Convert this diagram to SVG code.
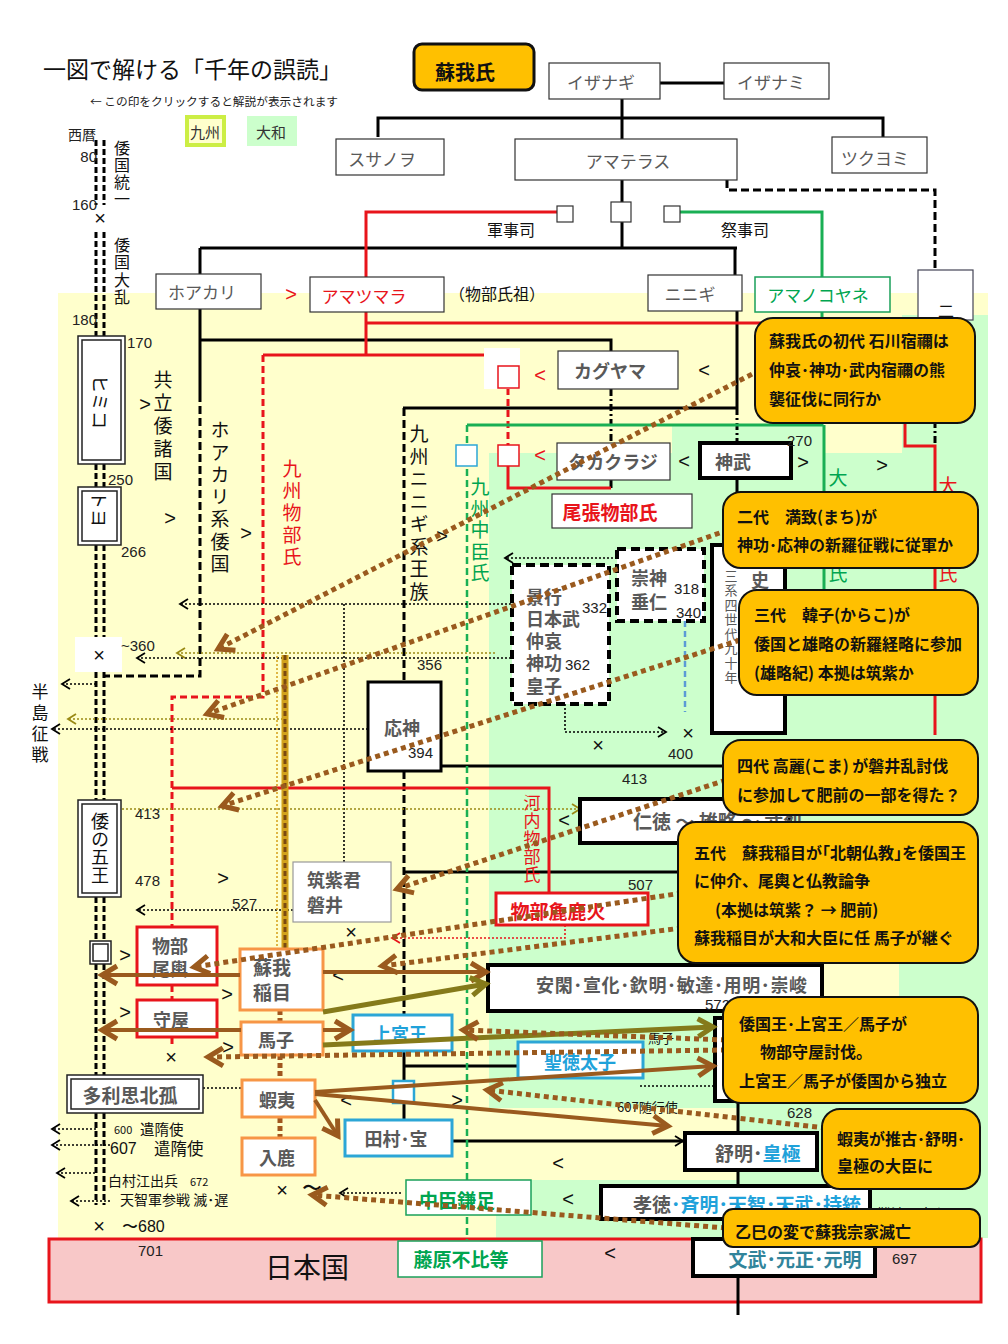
<svg xmlns="http://www.w3.org/2000/svg" width="1008" height="1344" viewBox="0 0 1008 1344">
<defs>
<style>
text{font-family:"Noto Sans CJK JP","Noto Sans",sans-serif;dominant-baseline:central}
.g{fill:#595959;font-size:17px}
.gb{fill:#595959;font-size:18px;font-weight:bold}
.k{fill:#111;font-size:16px}
.num{fill:#222;font-size:15px;font-family:"Liberation Sans",sans-serif}
.c{fill:#111;font-size:16px;font-weight:bold}
.sym{fill:#111;font-size:20px;font-family:"Liberation Sans",sans-serif;text-anchor:middle}
.mid{text-anchor:middle}
.vt{writing-mode:vertical-rl}
.box{fill:#fff;stroke:#333;stroke-width:1.2}
.tb{fill:#fff;stroke:#000;stroke-width:4}
.dash{fill:#fff;stroke:#000;stroke-width:4;stroke-dasharray:9 5}
.callout{fill:#FFC000;stroke:#111;stroke-width:2}
.ln{stroke:#000;stroke-width:3;fill:none}
.lnd{stroke:#000;stroke-width:3;fill:none;stroke-dasharray:8 4}
.lndd{stroke:#000;stroke-width:3;fill:none;stroke-dasharray:7 3 2 3}
.rl{stroke:#E8141B;stroke-width:3;fill:none}
.rld{stroke:#E8141B;stroke-width:3;fill:none;stroke-dasharray:7 4}
.gl{stroke:#1AAF54;stroke-width:3;fill:none}
.gld{stroke:#1AAF54;stroke-width:2.5;fill:none;stroke-dasharray:7 4}
.dot{stroke:#000;stroke-width:1.6;stroke-dasharray:2 2;fill:none}
.ydot{stroke:#9A8A14;stroke-width:1.6;stroke-dasharray:2 2;fill:none}
.bd{stroke:#9A5A1E;stroke-width:5;stroke-dasharray:5 4;fill:none}
.bs{stroke:#9A5A1E;stroke-width:4;fill:none}
.os{stroke:#857A1A;stroke-width:5;fill:none}
.ora{fill:#fff;stroke:#F79646;stroke-width:3}
.rb{fill:#fff;stroke:#E8141B;stroke-width:3}
.cb{fill:#fff;stroke:#2CA6D6;stroke-width:3}
.gbx{fill:#fff;stroke:#1AA05A;stroke-width:1.5}
.dbl{fill:#fff;stroke:#222;stroke-width:1.5}
.red{fill:#E8141B}
.grn{fill:#00A550}
.cy{fill:#1FA2DA}
.tl{stroke:#000;stroke-width:3;stroke-dasharray:6 3;fill:none}
</style>
<marker id="ak" markerWidth="12" markerHeight="12" refX="8" refY="5" orient="auto" markerUnits="userSpaceOnUse" overflow="visible"><path d="M0,0 L8,5 L0,10" fill="none" stroke="#000" stroke-width="1.8"/></marker>
<marker id="ay" markerWidth="12" markerHeight="12" refX="8" refY="5" orient="auto" markerUnits="userSpaceOnUse" overflow="visible"><path d="M0,0 L8,5 L0,10" fill="none" stroke="#9A8A14" stroke-width="1.8"/></marker>
<marker id="ar" markerWidth="12" markerHeight="12" refX="8" refY="5" orient="auto" markerUnits="userSpaceOnUse" overflow="visible"><path d="M0,0 L8,5 L0,10" fill="none" stroke="#E8141B" stroke-width="1.8"/></marker>
<marker id="ab" markerWidth="20" markerHeight="20" refX="15" refY="9" orient="auto" markerUnits="userSpaceOnUse" overflow="visible"><path d="M0,0 L15,9 L0,18" fill="none" stroke="#9A5A1E" stroke-width="5"/></marker>
<marker id="ao" markerWidth="20" markerHeight="20" refX="15" refY="9" orient="auto" markerUnits="userSpaceOnUse" overflow="visible"><path d="M0,0 L15,9 L0,18" fill="none" stroke="#857A1A" stroke-width="5"/></marker>
</defs>

<g id="background">
<rect x="0" y="0" width="1008" height="1344" fill="#fff"/>
<rect x="58" y="293" width="930" height="945" fill="#FFFFCC"/>
<rect x="489" y="453" width="499" height="655" fill="#CCFFCC"/>
<rect x="672" y="425" width="153" height="28" fill="#CCFFCC"/>
<rect x="902" y="315" width="86" height="138" fill="#CCFFCC"/>
<rect x="737" y="1108" width="251" height="72" fill="#CCFFCC"/>
<rect x="496" y="1180" width="492" height="58" fill="#CCFFCC"/>
<rect x="822" y="963" width="77" height="50" fill="#FFFFCC"/>
<rect x="49" y="1239" width="932" height="63" fill="#F8C8C8" stroke="#E8141B" stroke-width="3"/>
</g>

<g id="titles">
<text x="43" y="68" style="font-size:23px;fill:#111">一図で解ける「千年の誤読」</text>
<text x="90" y="100" style="font-size:11.7px;fill:#222">← この印をクリックすると解説が表示されます</text>
<rect x="187" y="117" width="37" height="28" fill="#FFFFCC" stroke="#CCEE44" stroke-width="4"/>
<text x="205" y="131" class="mid" style="font-size:15px;fill:#333">九州</text>
<rect x="247" y="116" width="50" height="30" fill="#CCFFCC"/>
<text x="271" y="131" class="mid" style="font-size:15px;fill:#333">大和</text>
</g>

<g id="connectors">
<path class="tl" d="M96,140V205M104,140V205M96,232V336M104,232V336M96,464V487M104,464V487M96,545V637M104,545V637M96,672V800M104,672V800M96,897V941M104,897V941M96,964V1075M104,964V1075M96,1113V1205M104,1113V1205"/>
<path class="ln" d="M660,83H724M622,99V139M378,137V118H883V137M622,180V202M622,222V248M200,248H737M200,248V274M735,248V275M200,309V394M200,340H611V351M737,311V408M403,408H737M611,480V488M737,479V545M441,766H760M404,872H690M738,1012V1018M738,1101V1133M738,1170V1186M738,1219V1239M738,1276V1315M404,1051V1081M404,1104V1120M404,1066H518"/>
<path class="ln" d="M452,1141H683" marker-end="url(#ak)"/>
<path class="lnd" d="M200,394V676H103M404,408V682M404,771V1015M727,180V190H935V270"/>
<path class="lndd" d="M737,408V443M611,389V443M935,316V446"/>
<path class="rl" d="M557,212H366V277M366,312V355M366,323H905V446H935V735M263,355H508V366M508,466V488H611M172,788H549V893"/>
<path class="rld" d="M263,355V697H172V927M508,388V446M172,985V1000M172,1037V1048"/>
<path d="M565,925V938H392" stroke="#E8141B" stroke-width="1.6" stroke-dasharray="2 2" fill="none" marker-end="url(#ar)"/>
<path class="gl" d="M680,212H822V277M822,312V425H467M824,425V590"/>
<path class="gld" d="M467,425V1240"/>
<path d="M685,621V712" stroke="#5B9BD5" stroke-width="2.5" stroke-dasharray="6 4" fill="none"/>
<path class="dot" d="M511,604H180" marker-end="url(#ak)"/>
<path class="dot" d="M344,604V862"/>
<path class="dot" d="M617,558H505" marker-end="url(#ak)"/>
<path class="dot" d="M511,658H137" marker-end="url(#ak)"/>
<path class="dot" d="M96,684H62" marker-end="url(#ak)"/>
<path class="dot" d="M368,729H52" marker-end="url(#ak)"/>
<path class="dot" d="M293,910H137" marker-end="url(#ak)"/>
<path class="dot" d="M565,704V732H666" marker-end="url(#ak)"/>
<path class="dot" d="M203,1088H242"/>
<path class="dot" d="M96,1129H52" marker-end="url(#ak)"/>
<path class="dot" d="M110,1145H52" marker-end="url(#ak)"/>
<path class="dot" d="M95,1173H57" marker-end="url(#ak)"/>
<path class="dot" d="M110,1201H71" marker-end="url(#ak)"/>
<path class="dot" d="M401,1193H340" marker-end="url(#ak)"/>
<path class="dot" d="M640,1086H720"/>
<path class="ydot" d="M495,653H177" marker-end="url(#ay)"/>
<path class="ydot" d="M283,719H68" marker-end="url(#ay)"/>
<path class="ydot" d="M118,809H580" marker-start="url(#ay)" marker-end="url(#ay)"/>
<path d="M285,655V950" stroke="#D2A21C" stroke-width="7" fill="none"/>
<path d="M285,655V950" stroke="#7A4A10" stroke-width="3" stroke-dasharray="5 3" fill="none"/>
<path d="M277,656V948" stroke="#D4A017" stroke-width="1.5" stroke-dasharray="2 2" fill="none"/>
<path d="M280,1010V1022M280,1055V1081M280,1118V1139" stroke="#A0561E" stroke-width="5" stroke-dasharray="5 3" fill="none"/>
</g>

<g id="n-soga"><rect x="414" y="44" width="120" height="46" rx="8" fill="#FFC000" stroke="#111" stroke-width="3"/><text x="465" y="71" class="mid" style="font-size:20px;font-weight:bold;fill:#111">蘇我氏</text></g>
<g id="n-izanagi"><rect class="box" x="549" y="63" width="111" height="36"/><text class="g mid" x="601" y="81">イザナギ</text></g>
<g id="n-izanami"><rect class="box" x="724" y="63" width="105" height="36"/><text class="g mid" x="771" y="81">イザナミ</text></g>
<g id="n-susanoo"><rect class="box" x="336" y="139" width="108" height="36"/><text class="g mid" x="382" y="158">スサノヲ</text></g>
<g id="n-amaterasu"><rect class="box" x="515" y="139" width="222" height="41"/><text class="g mid" x="628" y="160">アマテラス</text></g>
<g id="n-tsukuyomi"><rect class="box" x="832" y="137" width="95" height="36"/><text class="g mid" x="875" y="157">ツクヨミ</text></g>
<g id="n-sq1"><rect class="box" x="611" y="202" width="20" height="20"/></g>
<g id="n-sq2"><rect class="box" x="557" y="206" width="16" height="16"/><text class="k mid" x="511" y="229">軍事司</text></g>
<g id="n-sq3"><rect class="box" x="664" y="206" width="16" height="16"/><text class="k mid" x="745" y="229">祭事司</text></g>
<g id="n-hoakari"><rect class="box" x="156" y="274" width="105" height="35"/><text class="g mid" x="202" y="291">ホアカリ</text></g>
<g id="n-amatsumara"><rect class="box" x="310" y="277" width="134" height="35"/><text class="mid" x="364" y="295" style="font-size:17px;fill:#E8141B">アマツマラ</text><text x="291" y="294" class="sym" style="fill:#E8141B">&gt;</text><text class="k mid" x="497" y="293" style="font-size:16px">（物部氏祖）</text></g>
<g id="n-ninigi"><rect class="box" x="648" y="275" width="94" height="36"/><text class="g mid" x="690" y="293">ニニギ</text></g>
<g id="n-amanokoyane"><rect class="gbx" x="755" y="277" width="135" height="35"/><text class="mid grn" x="818" y="294" style="font-size:17px">アマノコヤネ</text></g>
<g id="n-ni"><rect x="918" y="270" width="55" height="50" fill="#fff" stroke="#445" stroke-width="1.2"/><text class="k mid" x="946" y="310">二</text></g>

<g id="n-redsq"><rect x="484" y="348" width="36" height="41" fill="#fff"/><rect x="498" y="366" width="21" height="22" fill="#fff" stroke="#E8141B" stroke-width="1.5"/><rect x="498" y="445" width="21" height="21" fill="#fff" stroke="#E8141B" stroke-width="1.5"/><rect x="456" y="445" width="21" height="21" fill="#fff" stroke="#2CA6D6" stroke-width="1.5"/>
<text class="sym" x="540" y="375" style="fill:#E8141B">&lt;</text><text class="sym" x="540" y="455" style="fill:#E8141B">&lt;</text></g>
<g id="n-kaguyama"><rect class="box" x="558" y="351" width="120" height="38"/><text class="gb mid" x="610" y="370">カグヤマ</text><text class="sym" x="704" y="370">&lt;</text></g>
<g id="n-takakuraji"><rect class="box" x="557" y="443" width="113" height="37"/><text class="gb mid" x="613" y="461">タカクラジ</text></g>
<g id="n-owari"><rect class="box" x="552" y="494" width="140" height="34"/><text class="mid red" x="610" y="511" style="font-size:19px;font-weight:bold">尾張物部氏</text></g>
<g id="n-jimmu"><rect class="tb" x="700" y="443" width="91" height="35"/><text class="gb" x="715" y="461">神武</text><text class="sym" x="684" y="461">&lt;</text><text class="sym" x="803" y="462">&gt;</text><text class="sym" x="882" y="465">&gt;</text><text class="num" x="787" y="440">270</text></g>

<g id="v-texts">
<text class="k vt" x="122" y="140" style="font-size:16px;letter-spacing:1px">倭国統一</text>
<text class="k vt" x="122" y="237" style="font-size:16px;letter-spacing:1.3px">倭国大乱</text>
<text class="k vt" x="163" y="370.5" style="font-size:19px;letter-spacing:4px">共立倭諸国</text>
<text class="k vt" x="220" y="420.5" style="font-size:19px;letter-spacing:3.3px">ホアカリ系倭国</text>
<text class="red vt" x="292" y="459.5" style="font-size:19px;letter-spacing:3px">九州物部氏</text>
<text class="k vt" x="419" y="424.5" style="font-size:19px;letter-spacing:3.5px">九州ニニギ系王族</text>
<text class="grn vt" x="480" y="477.5" style="font-size:19px;letter-spacing:2.5px">九州中臣氏</text>
<text class="grn mid" x="838" y="476" style="font-size:19px">大</text>
<text class="grn mid" x="838" y="572" style="font-size:19px">氏</text>
<text class="red mid" x="948" y="484" style="font-size:19px">大</text>
<text class="red mid" x="948" y="572" style="font-size:19px">氏</text>
<text class="red vt" x="532" y="794.5" style="font-size:17px;letter-spacing:1px">河内物部氏</text>
<text class="k vt" x="40" y="683.5" style="font-size:17px;letter-spacing:4px">半島征戦</text>
<text class="sym" x="145" y="404">&gt;</text><text class="sym" x="170" y="518">&gt;</text><text class="sym" x="246" y="533">&gt;</text><text class="sym" x="442" y="536">&gt;</text>
</g>

<g id="n-timeline-labels">
<text x="68" y="134" style="font-size:14px;fill:#222">西暦</text>
<text class="num" x="97" y="156" text-anchor="end">80</text>
<text class="num" x="97" y="204" text-anchor="end">160</text>
<text class="sym" x="100" y="218">×</text>
<text class="num" x="97" y="319" text-anchor="end">180</text>
<text class="num" x="127" y="342">170</text>
<text class="num" x="108" y="479">250</text>
<text class="num" x="121" y="551">266</text>
</g>
<g id="n-himiko"><rect class="dbl" x="78" y="336" width="47" height="128"/><rect class="dbl" x="82" y="340" width="39" height="120"/><text class="mid" x="101" y="402" transform="rotate(90 101 402)" style="font-size:18px;fill:#111">ヒミコ</text></g>
<g id="n-toyo"><rect class="dbl" x="78" y="487" width="43" height="58"/><rect class="dbl" x="82" y="491" width="35" height="50"/><text class="mid" x="100" y="509" transform="rotate(90 100 509)" style="font-size:18px;fill:#111">トヨ</text></g>
<g id="n-x360"><rect x="75" y="637" width="47" height="35" fill="#fff"/><text class="sym" x="99" y="655">×</text><text class="num" x="121" y="645">~360</text></g>

<g id="n-sujin"><rect class="dash" x="617" y="549" width="87" height="72"/><text class="gb" x="631" y="577">崇神</text><text class="gb" x="631" y="601">垂仁</text><text class="num" x="674" y="588">318</text><text class="num" x="676" y="612">340</text></g>
<g id="n-keiko"><rect class="dash" x="512" y="565" width="97" height="139"/><text class="gb" x="526" y="596">景行</text><text class="gb" x="526" y="618">日本武</text><text class="gb" x="526" y="640">仲哀</text><text class="gb" x="526" y="662">神功</text><text class="gb" x="526" y="685">皇子</text><text class="num" x="582" y="607">332</text><text class="num" x="565" y="664">362</text></g>
<g id="n-taishi"><rect class="tb" x="712" y="545" width="73" height="188"/><text class="gb mid" x="760" y="579">史</text><text class="vt" x="731" y="569.5" style="font-size:13px;fill:#595959;letter-spacing:1.5px">三系四世代九十年</text></g>
<g id="n-marks"><text class="sym" x="598" y="745">×</text><text class="sym" x="688" y="733">×</text><text class="num" x="668" y="753">400</text><text class="num" x="417" y="664">356</text><text class="num" x="622" y="778">413</text><text class="num" x="628" y="884">507</text></g>
<g id="n-ojin"><rect x="368" y="682" width="73" height="89" fill="#fff" stroke="#000" stroke-width="3"/><text class="gb mid" x="402" y="727">応神</text><text class="num" x="408" y="752">394</text></g>
<g id="n-nintoku"><rect class="tb" x="580" y="799" width="210" height="44"/><text class="gb" x="633" y="820" style="font-size:19px">仁徳 〜 雄略 〜 武烈</text><text class="sym" x="564" y="820">&lt;</text></g>
<g id="n-wa5"><rect class="dbl" x="78" y="800" width="43" height="97"/><rect class="dbl" x="82" y="804" width="35" height="89"/><text class="vt" x="100" y="812" style="font-size:18px;fill:#111">倭の五王</text><text class="num" x="135" y="813">413</text><text class="num" x="135" y="880">478</text><text class="sym" x="223" y="878">&gt;</text><text class="num" x="232" y="903">527</text></g>
<g id="n-iwai"><rect x="293" y="862" width="98" height="60" fill="#fff" stroke="#999" stroke-width="1.2"/><text class="gb" x="307" y="879">筑紫君</text><text class="gb" x="307" y="904">磐井</text><text class="sym" x="351" y="932">×</text></g>
<g id="n-arakabi"><rect class="rb" x="496" y="893" width="152" height="32"/><text class="mid red" x="558" y="910" style="font-size:19px;font-weight:bold">物部麁鹿火</text></g>
<g id="n-smallsq"><rect class="dbl" x="90" y="941" width="21" height="23"/><rect class="dbl" x="93" y="944" width="15" height="17"/><text class="sym" x="125" y="955">&gt;</text><text class="sym" x="227" y="994">&gt;</text><text class="sym" x="125" y="1012">&gt;</text><text class="sym" x="228" y="1047">&gt;</text></g>
<g id="n-okoshi"><rect class="rb" x="137" y="927" width="80" height="58"/><text class="gb" x="152" y="945">物部</text><text class="gb" x="152" y="968">尾輿</text></g>
<g id="n-moriya"><rect class="rb" x="137" y="1000" width="80" height="37"/><text class="gb mid" x="171" y="1019">守屋</text><text class="sym" x="171" y="1057">×</text></g>
<g id="n-iname"><rect class="ora" x="240" y="949" width="83" height="61"/><text class="gb" x="253" y="966" style="font-size:19px">蘇我</text><text class="gb" x="253" y="991" style="font-size:19px">稲目</text></g>
<g id="n-umako"><rect class="ora" x="241" y="1022" width="82" height="33"/><text class="gb mid" x="276" y="1039">馬子</text></g>
<g id="n-emishi"><rect class="ora" x="242" y="1080" width="73" height="37"/><text class="gb mid" x="277" y="1099">蝦夷</text></g>
<g id="n-iruka"><rect class="ora" x="242" y="1138" width="73" height="37"/><text class="gb mid" x="277" y="1157">入鹿</text><text class="sym" x="282" y="1190">×</text><text class="sym" x="312" y="1188">〜</text></g>
<g id="n-tarishihoko"><rect class="dbl" x="67" y="1075" width="136" height="38"/><rect class="dbl" x="71" y="1079" width="128" height="30"/><text class="gb mid" x="130" y="1094" style="font-size:19px">多利思北孤</text></g>
<g id="n-kenzui">
<text x="114" y="1129" style="font-size:11px;fill:#111">600</text><text x="140" y="1128" style="font-size:14.5px;fill:#111">遣隋使</text>
<text x="110" y="1148" style="font-size:16px;fill:#111;font-family:'Liberation Sans',sans-serif">607</text><text x="154" y="1148" style="font-size:16.5px;fill:#111">遣隋使</text>
<text x="108" y="1180" style="font-size:14px;fill:#111">白村江出兵</text><text x="190" y="1181" style="font-size:11px;fill:#111">672</text>
<text x="120" y="1199" style="font-size:14px;fill:#111">天智軍参戦 滅･遅</text>
<text class="sym" x="99" y="1226">×</text><text x="122" y="1226" style="font-size:16px;fill:#111;font-family:'Liberation Sans',sans-serif">〜680</text>
</g>
<g id="n-ankan"><rect class="tb" x="488" y="965" width="334" height="46"/><text class="gb" x="536" y="984" textLength="271">安閑･宣化･欽明･敏達･用明･崇峻</text><text class="num" x="705" y="1004">572</text><text class="sym" x="338" y="975">&lt;</text></g>
<g id="n-suiko"><rect class="tb" x="715" y="1018" width="90" height="83"/><text x="648" y="1037" style="font-size:13px;fill:#111">馬子</text></g>
<g id="n-jogu"><rect class="cb" x="353" y="1015" width="99" height="36"/><text class="mid cy" x="400" y="1033" style="font-size:18px;font-weight:bold">上宮王</text></g>
<g id="n-shotoku"><rect class="cb" x="518" y="1042" width="125" height="36"/><text class="mid cy" x="580" y="1061" style="font-size:18px;font-weight:bold">聖徳太子</text></g>
<g id="n-bluesq"><rect x="393" y="1081" width="21" height="22" fill="#fff" stroke="#2CA6D6" stroke-width="2.5"/><text class="sym" x="346" y="1100">&lt;</text><text class="sym" x="457" y="1100">&gt;</text><text x="617" y="1106" style="font-size:13px;fill:#111">607随行使</text></g>
<g id="n-tamura"><rect class="cb" x="345" y="1120" width="107" height="36"/><text class="gb mid" x="396" y="1138">田村･宝</text></g>
<g id="n-jomei"><rect class="tb" x="685" y="1133" width="132" height="37"/><text class="gb" x="715" y="1152" style="font-size:19px">舒明･<tspan fill="#1FA2DA">皇極</tspan></text><text class="num" x="787" y="1112">628</text><text class="sym" x="558" y="1163">&lt;</text></g>
<g id="n-kamatari"><rect class="gbx" x="406" y="1180" width="125" height="35"/><text class="mid grn" x="457" y="1199" style="font-size:19px;font-weight:bold">中臣鎌足</text><text class="sym" x="568" y="1199">&lt;</text></g>
<g id="n-kotoku"><rect class="tb" x="601" y="1186" width="269" height="33"/><text class="gb" x="633" y="1203" style="font-size:19px">孝徳<tspan fill="#1FA2DA">･斉明･天智･天武･持統</tspan></text><text x="877" y="1213" style="font-size:14px;fill:#111">難波　大和</text></g>
<g id="n-nihon"><text class="num" x="138" y="1250">701</text><text x="265" y="1266" style="font-size:28px;fill:#111">日本国</text></g>
<g id="n-fuhito"><rect class="gbx" x="398" y="1241" width="144" height="36"/><text class="mid grn" x="461" y="1258" style="font-size:19px;font-weight:bold">藤原不比等</text><text class="sym" x="610" y="1253">&lt;</text></g>
<g id="n-mommu"><rect class="tb" x="693" y="1239" width="182" height="37"/><text class="mid" x="795" y="1258" style="font-size:19px;font-weight:bold;fill:#31849B">文武･元正･元明</text><text class="num" x="892" y="1258">697</text></g>

<g id="pointers">
<path class="bs" d="M240,975H102" marker-end="url(#ab)"/>
<path class="bs" d="M241,1030H102" marker-end="url(#ab)"/>
<path class="bs" d="M323,972H486" marker-end="url(#ab)"/>
<path class="bs" d="M323,1030H350" marker-end="url(#ab)"/>
<path class="os" d="M323,1012L486,984" marker-end="url(#ao)"/>
<path class="os" d="M323,1045L713,1027" marker-end="url(#ao)"/>
<path class="bs" d="M315,1092L713,1066" marker-end="url(#ab)"/>
<path class="bs" d="M315,1094L668,1126" marker-end="url(#ab)"/>
<path class="bs" d="M315,1100L338,1136" marker-end="url(#ab)"/>
<path class="bd" d="M760,370L218,649" marker-end="url(#ab)"/>
<path class="bd" d="M728,530L207,714" marker-end="url(#ab)"/>
<path class="bd" d="M740,640L222,806" marker-end="url(#ab)"/>
<path class="bd" d="M726,780L397,889" marker-end="url(#ab)"/>
<path class="bd" d="M682,893L194,967" marker-end="url(#ab)"/>
<path class="bd" d="M682,928L382,966" marker-end="url(#ab)"/>
<path class="bd" d="M726,1040L463,1030" marker-end="url(#ab)"/>
<path class="bd" d="M726,1050L208,1057" marker-end="url(#ab)"/>
<path class="bd" d="M826,1128L487,1090" marker-end="url(#ab)"/>
<path class="bd" d="M726,1228L312,1195" marker-end="url(#ab)"/>
</g>

<g id="callouts">
<g id="co1"><rect class="callout" x="755" y="318" width="220" height="105" rx="18"/><text class="c" x="769" y="340">蘇我氏の初代 石川宿禰は</text><text class="c" x="769" y="369">仲哀･神功･武内宿禰の熊</text><text class="c" x="769" y="398">襲征伐に同行か</text></g>
<g id="co2"><rect class="callout" x="723" y="492" width="255" height="76" rx="18"/><text class="c" x="737" y="516">二代　満致(まち)が</text><text class="c" x="737" y="544">神功･応神の新羅征戦に従軍か</text></g>
<g id="co3"><rect class="callout" x="739" y="590" width="239" height="105" rx="18"/><text class="c" x="754" y="614">三代　韓子(からこ)が</text><text class="c" x="754" y="643">倭国と雄略の新羅経略に参加</text><text class="c" x="754" y="672">(雄略紀) 本拠は筑紫か</text></g>
<g id="co4"><rect class="callout" x="723" y="740" width="255" height="75" rx="18"/><text class="c" x="737" y="765">四代 高麗(こま) が磐井乱討伐</text><text class="c" x="737" y="794">に参加して肥前の一部を得た？</text></g>
<g id="co5"><rect class="callout" x="678" y="822" width="300" height="141" rx="18"/><text class="c" x="694" y="852">五代　蘇我稲目が｢北朝仏教｣を倭国王</text><text class="c" x="694" y="880">に仲介、尾輿と仏教論争</text><text class="c" x="715" y="909">(本拠は筑紫？ → 肥前)</text><text class="c" x="694" y="937">蘇我稲目が大和大臣に任 馬子が継ぐ</text></g>
<g id="co6"><rect class="callout" x="723" y="997" width="255" height="106" rx="18"/><text class="c" x="739" y="1023">倭国王･上宮王／馬子が</text><text class="c" x="760" y="1051">物部守屋討伐。</text><text class="c" x="739" y="1080">上宮王／馬子が倭国から独立</text></g>
<g id="co7"><rect class="callout" x="822" y="1109" width="158" height="80" rx="18"/><text class="c" x="837" y="1138">蝦夷が推古･舒明･</text><text class="c" x="837" y="1165">皇極の大臣に</text></g>
<g id="co8"><rect class="callout" x="723" y="1209" width="257" height="38" rx="10"/><text class="c" x="735" y="1231">乙巳の変で蘇我宗家滅亡</text></g>
</g>
</svg>
